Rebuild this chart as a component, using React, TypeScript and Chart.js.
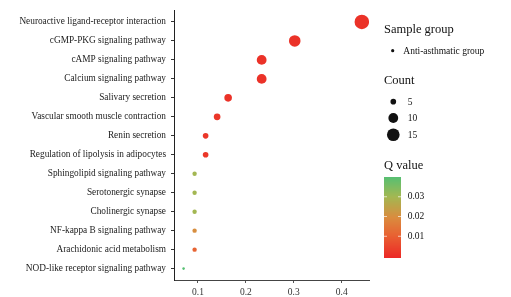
import { useEffect, useRef } from "react";
import { Chart, registerables } from "chart.js";
Chart.register(...registerables);

const pathways = [
  "Neuroactive ligand-receptor interaction",
  "cGMP-PKG signaling pathway",
  "cAMP signaling pathway",
  "Calcium signaling pathway",
  "Salivary secretion",
  "Vascular smooth muscle contraction",
  "Renin secretion",
  "Regulation of lipolysis in adipocytes",
  "Sphingolipid signaling pathway",
  "Serotonergic synapse",
  "Cholinergic synapse",
  "NF-kappa B signaling pathway",
  "Arachidonic acid metabolism",
  "NOD-like receptor signaling pathway",
];
const geneRatio = [0.442, 0.302, 0.233, 0.233, 0.163, 0.14, 0.116, 0.116, 0.093, 0.093, 0.093, 0.093, 0.093, 0.07];
const counts = [19, 13, 10, 10, 7, 6, 5, 5, 4, 4, 4, 4, 4, 3];
const qValues = [0.001, 0.001, 0.001, 0.001, 0.001, 0.002, 0.002, 0.002, 0.03, 0.03, 0.03, 0.02, 0.011, 0.04];
const xTicks = [0.1, 0.2, 0.3, 0.4];
const sizeLegend = [5, 10, 15];
const qTicks = [0.01, 0.02, 0.03];
const groupName = "Anti-asthmatic group";

const Q_MIN = -0.001;
const Q_MAX = 0.04;
const FONT = "'Liberation Serif', 'Times New Roman', serif";

// colour ramp stops: position (0..1), rgb
const rampStops: [number, number[]][] = [
  [0, [236, 40, 38]],
  [0.28, [232, 98, 50]],
  [0.5, [218, 140, 62]],
  [0.76, [162, 184, 82]],
  [1, [86, 191, 114]],
];
function qColor(q: number) {
  const t = Math.max(0, Math.min(1, (q - Q_MIN) / (Q_MAX - Q_MIN)));
  for (let i = 0; i < rampStops.length - 1; i++) {
    const [t0, c0] = rampStops[i];
    const [t1, c1] = rampStops[i + 1];
    if (t <= t1) {
      const f = (t - t0) / (t1 - t0);
      const c = c0.map((v, k) => Math.round(v + (c1[k] - v) * f));
      return `rgb(${c[0]},${c[1]},${c[2]})`;
    }
  }
  const c = rampStops[rampStops.length - 1][1];
  return `rgb(${c[0]},${c[1]},${c[2]})`;
}
function countRadius(c: number) {
  return Math.sqrt(Math.max(1, -8 + 3.2 * c));
}

const legendPlugin = {
  id: "sideLegend",
  afterDraw(chart: any) {
    const ctx = chart.ctx as CanvasRenderingContext2D;
    const x0 = 384;
    ctx.save();
    ctx.fillStyle = "#111";
    ctx.textBaseline = "middle";
    ctx.textAlign = "left";
    ctx.font = `12.5px ${FONT}`;
    ctx.fillText("Sample group", x0, 30);
    ctx.fillText("Count", x0, 81);
    ctx.fillText("Q value", x0, 166);

    ctx.font = `9.5px ${FONT}`;
    ctx.beginPath();
    ctx.arc(392.7, 50.7, 1.6, 0, Math.PI * 2);
    ctx.fill();
    ctx.fillText(groupName, 403.3, 51);

    const sizeY = [101.7, 118, 134.7];
    sizeLegend.forEach((c, i) => {
      ctx.beginPath();
      ctx.arc(393.3, sizeY[i], countRadius(c), 0, Math.PI * 2);
      ctx.fill();
      ctx.fillText(String(c), 407.7, sizeY[i] + 0.5);
    });

    const barL = 384, barR = 401, barT = 177, barB = 258;
    for (let y = barT; y < barB; y++) {
      const q = Q_MAX - ((y + 0.5 - barT) / (barB - barT)) * (Q_MAX - Q_MIN);
      ctx.fillStyle = qColor(q);
      ctx.fillRect(barL, y, barR - barL, 1);
    }
    ctx.strokeStyle = "rgba(255,255,255,0.85)";
    ctx.lineWidth = 0.8;
    qTicks.forEach((q) => {
      const y = barB - ((q - Q_MIN) / (Q_MAX - Q_MIN)) * (barB - barT);
      ctx.beginPath();
      ctx.moveTo(barL, y); ctx.lineTo(barL + 3, y);
      ctx.moveTo(barR - 3, y); ctx.lineTo(barR, y);
      ctx.stroke();
      ctx.fillStyle = "#111";
      ctx.fillText(q.toFixed(2), 407.7, y);
    });
    ctx.restore();
  },
};

export default function App() {
  const ref = useRef<HTMLCanvasElement>(null);
  useEffect(() => {
    if (!ref.current) return;
    const pts = pathways.map((_, i) => ({ x: geneRatio[i], y: i + 1 }));
    const chart = new Chart(ref.current, {
      type: "scatter",
      data: {
        datasets: [
          {
            data: pts,
            pointRadius: counts.map(countRadius),
            pointBackgroundColor: qValues.map(qColor),
            pointBorderWidth: 0,
            pointHoverRadius: counts.map(countRadius),
          },
        ],
      },
      plugins: [legendPlugin],
      options: {
        responsive: false,
        animation: false,
        events: [],
        layout: { padding: { top: 3, right: 142, left: 0, bottom: 0 } },
        plugins: { legend: { display: false }, tooltip: { enabled: false } },
        scales: {
          x: {
            type: "linear",
            min: 0.05,
            max: 0.457,
            afterBuildTicks: (s: any) => {
              s.ticks = xTicks.map((v) => ({ value: v }));
            },
            afterFit: (s: any) => {
              s.height = 17;
            },
            ticks: {
              callback: (v: any) => String(v),
              font: { family: FONT, size: 9.5 },
              color: "#333",
              padding: 3.5,
              maxRotation: 0,
            },
            grid: { drawOnChartArea: false, tickLength: 3, color: "#555" },
            border: { color: "#444", width: 1 },
          },
          y: {
            type: "linear",
            reverse: true,
            min: 0.4,
            max: 14.6,
            afterBuildTicks: (s: any) => {
              s.ticks = pathways.map((_, i) => ({ value: i + 1 }));
            },
            afterFit: (s: any) => {
              s.width = 174;
            },
            ticks: {
              callback: (v: any) => pathways[Math.round(v) - 1] ?? "",
              font: { family: FONT, size: 9.3 },
              color: "#222",
              padding: 5,
              autoSkip: false,
            },
            grid: { drawOnChartArea: false, tickLength: 3, color: "#333" },
            border: { color: "#222", width: 1 },
          },
        },
      },
    });
    return () => chart.destroy();
  }, []);
  return (
    <div style={{ position: "fixed", left: 0, top: 0, width: 511, height: 297, background: "#fff" }}>
      <canvas ref={ref} width={511} height={297} style={{ width: 511, height: 297 }} />
    </div>
  );
}
